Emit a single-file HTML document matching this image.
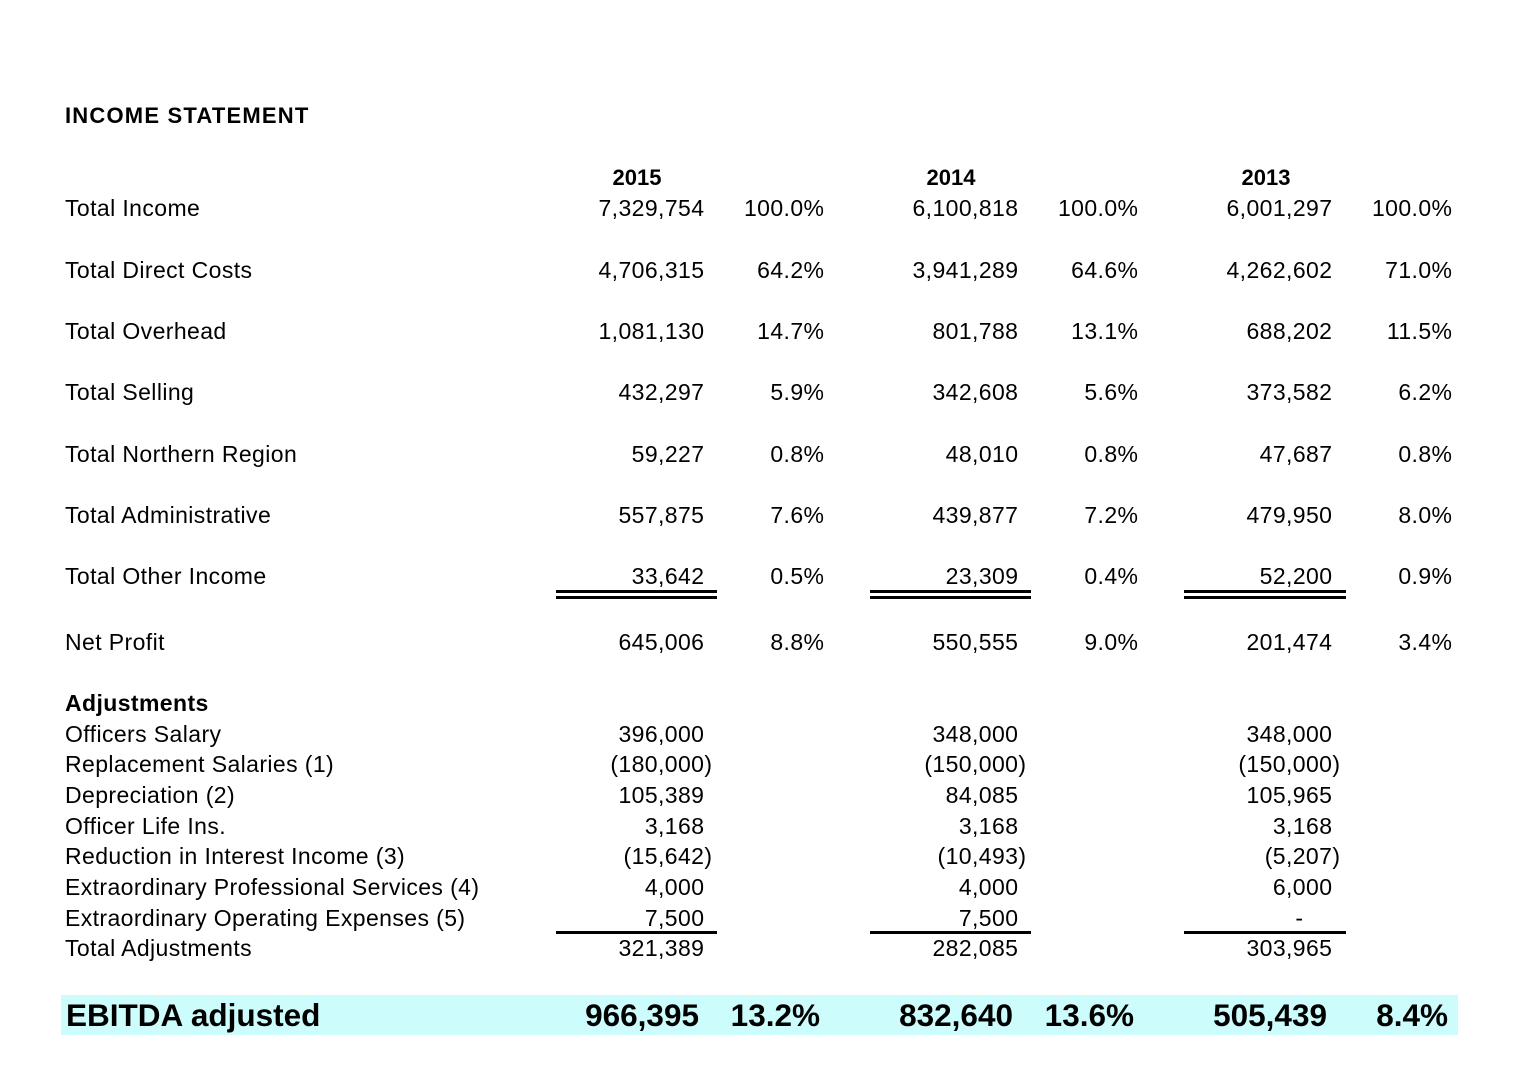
<!DOCTYPE html>
<html><head><meta charset="utf-8"><style>
body{margin:0;width:1531px;height:1083px;background:#fff;position:relative;overflow:hidden;font-family:"Liberation Sans",Arial,sans-serif;color:#000}
.t{position:absolute;font-size:23px;letter-spacing:0.4px;line-height:26px;white-space:nowrap}
.r{text-align:right;margin-right:-0.4px}
.b{font-weight:bold}
.ln{position:absolute;height:3px;background:#000}
.e{position:absolute;font-size:31.5px;line-height:40px;font-weight:bold;white-space:nowrap;text-align:right}
</style></head><body>
<div class="t b" style="left:65px;top:103px;font-size:22px;letter-spacing:1.2px">INCOME STATEMENT</div>
<div class="t b" style="left:597px;width:80px;text-align:center;top:165px;font-size:22px;letter-spacing:0">2015</div>
<div class="t b" style="left:911px;width:80px;text-align:center;top:165px;font-size:22px;letter-spacing:0">2014</div>
<div class="t b" style="left:1226px;width:80px;text-align:center;top:165px;font-size:22px;letter-spacing:0">2013</div>

<div class="t" style="left:65px;top:195px">Total Income</div>
<div class="t" style="left:65px;top:257px">Total Direct Costs</div>
<div class="t" style="left:65px;top:318px">Total Overhead</div>
<div class="t" style="left:65px;top:379px">Total Selling</div>
<div class="t" style="left:65px;top:441px">Total Northern Region</div>
<div class="t" style="left:65px;top:502px">Total Administrative</div>
<div class="t" style="left:65px;top:563px">Total Other Income</div>
<div class="t" style="left:65px;top:629px">Net Profit</div>
<div class="t b" style="left:65px;top:690px">Adjustments</div>
<div class="t" style="left:65px;top:721px">Officers Salary</div>
<div class="t" style="left:65px;top:751px">Replacement Salaries (1)</div>
<div class="t" style="left:65px;top:782px">Depreciation (2)</div>
<div class="t" style="left:65px;top:813px">Officer Life Ins.</div>
<div class="t" style="left:65px;top:843px">Reduction in Interest Income (3)</div>
<div class="t" style="left:65px;top:874px">Extraordinary Professional Services (4)</div>
<div class="t" style="left:65px;top:905px">Extraordinary Operating Expenses (5)</div>
<div class="t" style="left:65px;top:935px">Total Adjustments</div>

<div class="t r" style="right:827px;top:195px">7,329,754</div><div class="t r" style="right:707px;top:195px">100.0%</div>
<div class="t r" style="right:827px;top:257px">4,706,315</div><div class="t r" style="right:707px;top:257px">64.2%</div>
<div class="t r" style="right:827px;top:318px">1,081,130</div><div class="t r" style="right:707px;top:318px">14.7%</div>
<div class="t r" style="right:827px;top:379px">432,297</div><div class="t r" style="right:707px;top:379px">5.9%</div>
<div class="t r" style="right:827px;top:441px">59,227</div><div class="t r" style="right:707px;top:441px">0.8%</div>
<div class="t r" style="right:827px;top:502px">557,875</div><div class="t r" style="right:707px;top:502px">7.6%</div>
<div class="t r" style="right:827px;top:563px">33,642</div><div class="t r" style="right:707px;top:563px">0.5%</div>
<div class="t r" style="right:827px;top:629px">645,006</div><div class="t r" style="right:707px;top:629px">8.8%</div>
<div class="t r" style="right:827px;top:721px">396,000</div>
<div class="t r" style="right:819px;top:751px">(180,000)</div>
<div class="t r" style="right:827px;top:782px">105,389</div>
<div class="t r" style="right:827px;top:813px">3,168</div>
<div class="t r" style="right:819px;top:843px">(15,642)</div>
<div class="t r" style="right:827px;top:874px">4,000</div>
<div class="t r" style="right:827px;top:905px">7,500</div>
<div class="t r" style="right:827px;top:935px">321,389</div>

<div class="t r" style="right:513px;top:195px">6,100,818</div><div class="t r" style="right:393px;top:195px">100.0%</div>
<div class="t r" style="right:513px;top:257px">3,941,289</div><div class="t r" style="right:393px;top:257px">64.6%</div>
<div class="t r" style="right:513px;top:318px">801,788</div><div class="t r" style="right:393px;top:318px">13.1%</div>
<div class="t r" style="right:513px;top:379px">342,608</div><div class="t r" style="right:393px;top:379px">5.6%</div>
<div class="t r" style="right:513px;top:441px">48,010</div><div class="t r" style="right:393px;top:441px">0.8%</div>
<div class="t r" style="right:513px;top:502px">439,877</div><div class="t r" style="right:393px;top:502px">7.2%</div>
<div class="t r" style="right:513px;top:563px">23,309</div><div class="t r" style="right:393px;top:563px">0.4%</div>
<div class="t r" style="right:513px;top:629px">550,555</div><div class="t r" style="right:393px;top:629px">9.0%</div>
<div class="t r" style="right:513px;top:721px">348,000</div>
<div class="t r" style="right:505px;top:751px">(150,000)</div>
<div class="t r" style="right:513px;top:782px">84,085</div>
<div class="t r" style="right:513px;top:813px">3,168</div>
<div class="t r" style="right:505px;top:843px">(10,493)</div>
<div class="t r" style="right:513px;top:874px">4,000</div>
<div class="t r" style="right:513px;top:905px">7,500</div>
<div class="t r" style="right:513px;top:935px">282,085</div>

<div class="t r" style="right:199px;top:195px">6,001,297</div><div class="t r" style="right:79px;top:195px">100.0%</div>
<div class="t r" style="right:199px;top:257px">4,262,602</div><div class="t r" style="right:79px;top:257px">71.0%</div>
<div class="t r" style="right:199px;top:318px">688,202</div><div class="t r" style="right:79px;top:318px">11.5%</div>
<div class="t r" style="right:199px;top:379px">373,582</div><div class="t r" style="right:79px;top:379px">6.2%</div>
<div class="t r" style="right:199px;top:441px">47,687</div><div class="t r" style="right:79px;top:441px">0.8%</div>
<div class="t r" style="right:199px;top:502px">479,950</div><div class="t r" style="right:79px;top:502px">8.0%</div>
<div class="t r" style="right:199px;top:563px">52,200</div><div class="t r" style="right:79px;top:563px">0.9%</div>
<div class="t r" style="right:199px;top:629px">201,474</div><div class="t r" style="right:79px;top:629px">3.4%</div>
<div class="t r" style="right:199px;top:721px">348,000</div>
<div class="t r" style="right:191px;top:751px">(150,000)</div>
<div class="t r" style="right:199px;top:782px">105,965</div>
<div class="t r" style="right:199px;top:813px">3,168</div>
<div class="t r" style="right:191px;top:843px">(5,207)</div>
<div class="t r" style="right:199px;top:874px">6,000</div>
<div class="t r" style="right:228px;top:905px">-</div>
<div class="t r" style="right:199px;top:935px">303,965</div>

<div class="ln" style="left:556px;width:161px;top:590px"></div><div class="ln" style="left:556px;width:161px;top:596px"></div>
<div class="ln" style="left:870px;width:161px;top:590px"></div><div class="ln" style="left:870px;width:161px;top:596px"></div>
<div class="ln" style="left:1184px;width:162px;top:590px"></div><div class="ln" style="left:1184px;width:162px;top:596px"></div>
<div class="ln" style="left:556px;width:161px;top:931px"></div>
<div class="ln" style="left:870px;width:161px;top:931px"></div>
<div class="ln" style="left:1184px;width:162px;top:931px"></div>

<div style="position:absolute;left:61px;top:995px;width:1397px;height:40px;background:#ccfcfc"></div>
<div class="e" style="left:66px;top:995px;text-align:left">EBITDA adjusted</div>
<div class="e" style="right:832px;top:995px">966,395</div><div class="e" style="right:711px;top:995px">13.2%</div>
<div class="e" style="right:518px;top:995px">832,640</div><div class="e" style="right:397px;top:995px">13.6%</div>
<div class="e" style="right:204px;top:995px">505,439</div><div class="e" style="right:83px;top:995px">8.4%</div>
</body></html>
